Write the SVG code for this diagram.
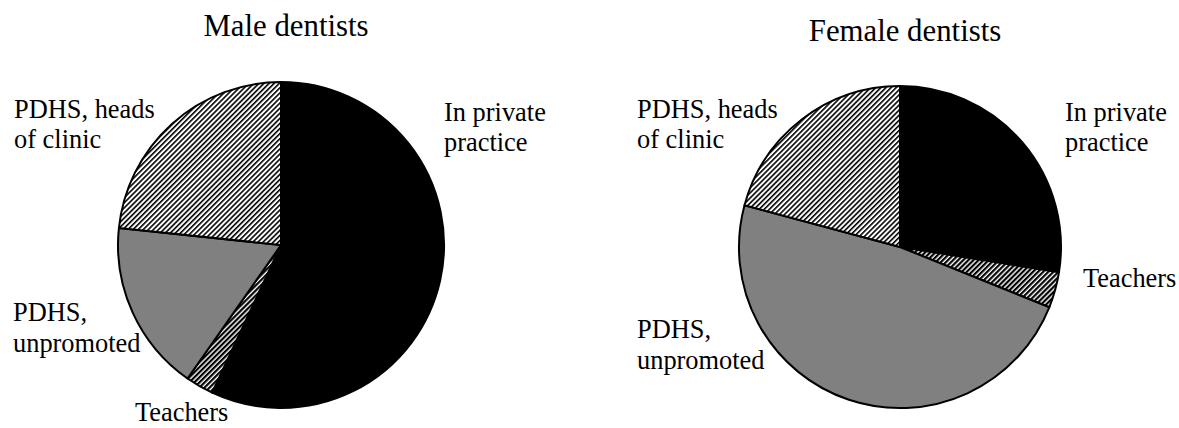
<svg xmlns="http://www.w3.org/2000/svg" width="1179" height="428" viewBox="0 0 1179 428" font-family="'Liberation Serif', 'DejaVu Serif', serif">
<style>
text{font-family:"Liberation Serif","DejaVu Serif",serif;fill:#000}
.t{font-size:30.8px}
.l{font-size:26.4px}
.s{stroke:#000;stroke-width:2;stroke-linejoin:round}
.pp{fill:#000}
.gr{fill:#808080}
.hd{fill:url(#hatch)}
.tc{fill:url(#hatch2)}
</style>
<defs>
<pattern id="hatch" width="3.6" height="3.6" patternUnits="userSpaceOnUse" patternTransform="rotate(45)">
<rect width="3.6" height="3.6" fill="#fff"/>
<rect width="1.6" height="3.6" fill="#000"/>
</pattern>
<pattern id="hatch2" width="3.6" height="3.6" patternUnits="userSpaceOnUse" patternTransform="rotate(45)">
<rect width="3.6" height="3.6" fill="#fff"/>
<rect width="2.2" height="3.6" fill="#000"/>
</pattern>
</defs>

<g id="male-pie">
<text class="t" x="286" y="36" text-anchor="middle">Male dentists</text>
<g id="male-private"><path class="s pp" d="M281,245 L281,82 A163,163 0 1 1 212.1,392.7 Z"/></g>
<g id="male-teachers"><path class="s tc" d="M281,245 L212.1,392.7 A163,163 0 0 1 187.5,378.5 Z"/></g>
<g id="male-unpromoted"><path class="s gr" d="M281,245 L187.5,378.5 A163,163 0 0 1 118.9,228 Z"/></g>
<g id="male-heads"><path class="s hd" d="M281,245 L118.9,228 A163,163 0 0 1 281,82 Z"/></g>
<g id="male-labels">
<text class="l" x="14" y="118">PDHS, heads</text>
<text class="l" x="14" y="148">of clinic</text>
<text class="l" x="13" y="321">PDHS,</text>
<text class="l" x="13" y="352">unpromoted</text>
<text class="l" x="444" y="121">In private</text>
<text class="l" x="444" y="151">practice</text>
<text class="l" x="135" y="421">Teachers</text>
</g>
</g>

<g id="female-pie">
<text class="t" x="905" y="41" text-anchor="middle">Female dentists</text>
<g id="female-private"><path class="s pp" d="M900,247 L900,86 A161,161 0 0 1 1059,272.2 Z"/></g>
<g id="female-teachers"><path class="s tc" d="M900,247 L1059,272.2 A161,161 0 0 1 1049.3,307.3 Z"/></g>
<g id="female-unpromoted"><path class="s gr" d="M900,247 L1049.3,307.3 A161,161 0 0 1 744.5,205.3 Z"/></g>
<g id="female-heads"><path class="s hd" d="M900,247 L744.5,205.3 A161,161 0 0 1 900,86 Z"/></g>
<g id="female-labels">
<text class="l" x="637" y="118">PDHS, heads</text>
<text class="l" x="637" y="148">of clinic</text>
<text class="l" x="637" y="338">PDHS,</text>
<text class="l" x="637" y="369">unpromoted</text>
<text class="l" x="1065" y="121">In private</text>
<text class="l" x="1065" y="151">practice</text>
<text class="l" x="1083" y="287">Teachers</text>
</g>
</g>
<g id="connectors"/>
</svg>
